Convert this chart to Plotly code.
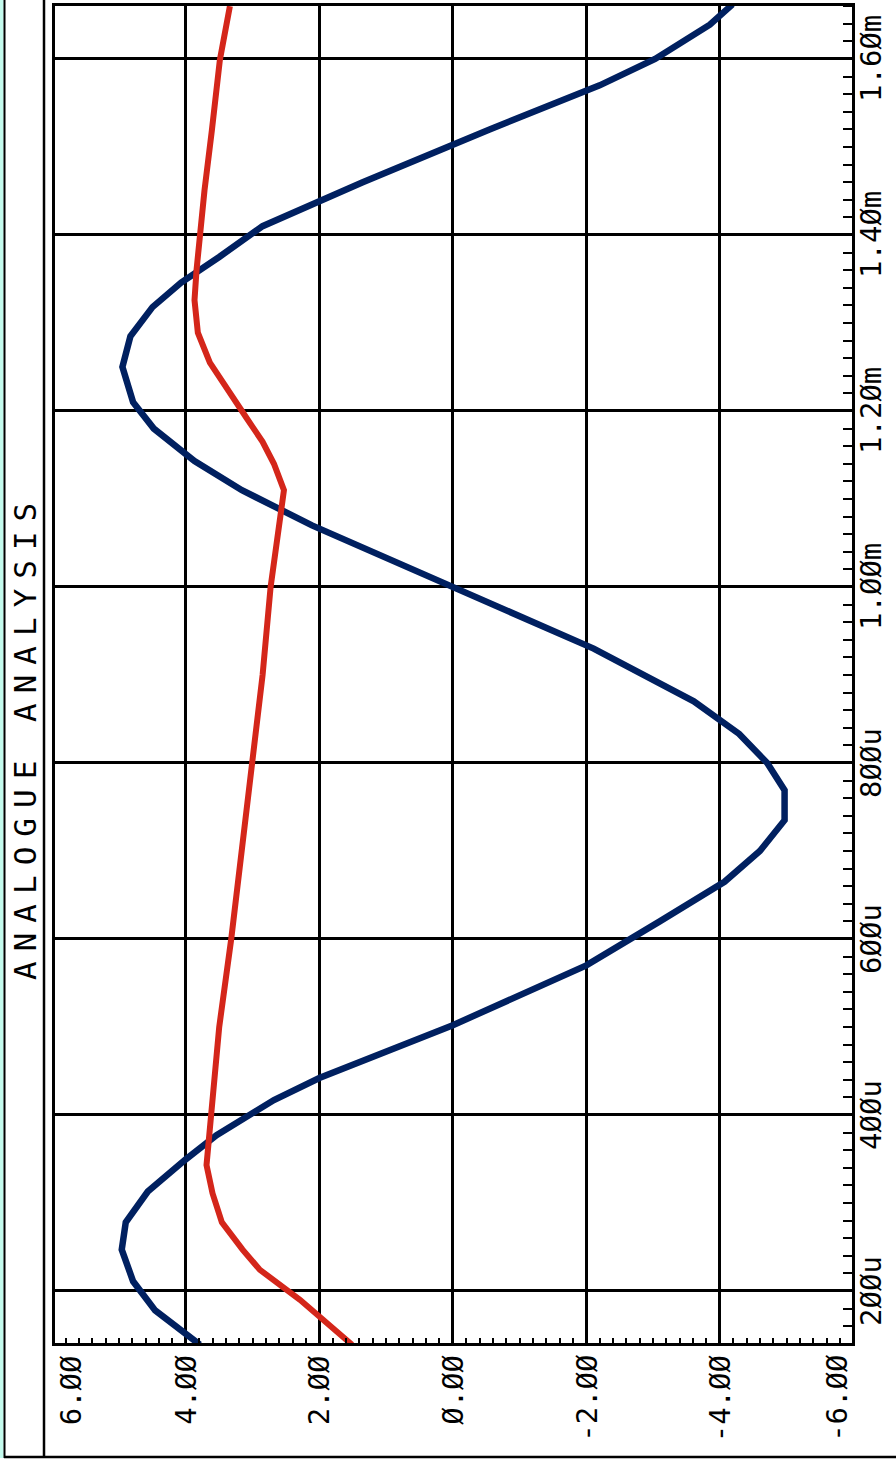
import plotly.graph_objects as go

W, H = 896, 1468

# ---- data (time in microseconds, voltage in volts) ----
blue_t = [139, 178, 211, 247, 278, 313, 349, 377, 417, 442, 502, 570, 620, 665, 700,
          735, 769, 800, 833, 870, 930, 1000, 1070, 1110, 1143, 1180, 1210, 1250, 1285,
          1318, 1346, 1375, 1410, 1460, 1520, 1570, 1600, 1639, 1662]
blue_v = [3.79, 4.46, 4.79, 4.96, 4.90, 4.57, 4.01, 3.54, 2.68, 2.00, 0.0, -2.00, -3.10,
          -4.07, -4.60, -4.97, -4.97, -4.71, -4.29, -3.61, -2.11, 0.0, 2.11, 3.16, 3.87,
          4.48, 4.79, 4.95, 4.83, 4.50, 4.07, 3.50, 2.85, 1.35, -0.55, -2.20, -3.03,
          -3.85, -4.19]

red_t = [139, 190, 224, 247, 278, 311, 343, 400, 500, 600, 700, 800, 900, 1000, 1060,
         1110, 1140, 1165, 1192, 1255, 1289, 1326, 1360, 1400, 1451, 1519, 1599, 1660]
red_v = [1.51, 2.29, 2.89, 3.15, 3.46, 3.60, 3.69, 3.62, 3.50, 3.32, 3.17, 3.00, 2.85,
         2.73, 2.62, 2.53, 2.68, 2.85, 3.09, 3.64, 3.82, 3.87, 3.84, 3.79, 3.72, 3.61,
         3.49, 3.34]

volt_ticks = [6, 4, 2, 0, -2, -4, -6]
volt_labels = ["6.ØØ", "4.ØØ", "2.ØØ", "Ø.ØØ", "-2.ØØ", "-4.ØØ", "-6.ØØ"]
time_ticks = [200, 400, 600, 800, 1000, 1200, 1400, 1600]
time_labels = ["2ØØu", "4ØØu", "6ØØu", "8ØØu", "1.ØØm", "1.2Øm", "1.4Øm", "1.6Øm"]
title_text = "ANALOGUE ANALYSIS"

BLUE = "rgb(0,32,96)"
RED = "rgb(212,38,26)"
FONT = "DejaVu Sans Mono"

X_RANGE = [5.96, -5.98]
X_DOM = [55 / W, 852 / W]


def px(x):
    return x / W


def py(y):
    return 1 - y / H


def volt_to_paper(v):
    frac = (X_RANGE[0] - v) / (X_RANGE[0] - X_RANGE[1])
    return X_DOM[0] + frac * (X_DOM[1] - X_DOM[0])


fig = go.Figure()
fig.add_trace(go.Scatter(x=blue_v, y=blue_t, mode="lines",
                         line=dict(color=BLUE, width=6.5), showlegend=False))
fig.add_trace(go.Scatter(x=red_v, y=red_t, mode="lines",
                         line=dict(color=RED, width=6), showlegend=False))

annotations = []
for v, lab in zip(volt_ticks, volt_labels):
    shift = 19 if v == 6 else (-17 if v == -6 else 0)
    annotations.append(dict(x=volt_to_paper(v), xref="paper", y=py(1353), yref="paper",
                            text=lab, textangle=-90, showarrow=False, xanchor="center",
                            yanchor="top", xshift=shift,
                            font=dict(family=FONT, size=29, color="black")))
for t, lab in zip(time_ticks, time_labels):
    annotations.append(dict(x=px(852), xref="paper", y=t, yref="y", text=lab,
                            textangle=-90, showarrow=False, xanchor="left",
                            yanchor="middle",
                            font=dict(family=FONT, size=29, color="black")))
annotations.append(dict(x=px(25), xref="paper", y=py(737), yref="paper",
                        text='<span style="letter-spacing:10px">' + title_text + '</span>',
                        textangle=-90, showarrow=False, xanchor="center", yanchor="middle",
                        font=dict(family=FONT, size=31, color="black")))

shapes = [
    dict(type="rect", xref="paper", yref="paper", x0=0, x1=px(3.5), y0=py(1458), y1=1,
         fillcolor="#c4fbee", line=dict(width=0), layer="below"),
    dict(type="line", xref="paper", yref="paper", x0=px(4.5), x1=px(4.5), y0=py(1458), y1=1,
         line=dict(color="black", width=2)),
    dict(type="line", xref="paper", yref="paper", x0=px(44), x1=px(44), y0=py(1458), y1=1,
         line=dict(color="black", width=2.5)),
    dict(type="line", xref="paper", yref="paper", x0=px(4), x1=1, y0=py(1457), y1=py(1457),
         line=dict(color="black", width=2.5)),
]

fig.update_layout(
    width=W, height=H, autosize=False,
    margin=dict(l=0, r=0, t=0, b=0),
    paper_bgcolor="white", plot_bgcolor="white",
    showlegend=False,
    hovermode=False,
    annotations=annotations,
    shapes=shapes,
    xaxis=dict(domain=X_DOM, range=X_RANGE, tick0=0, dtick=2,
               showgrid=True, gridcolor="black", gridwidth=3, zeroline=False,
               showticklabels=False, ticks="", showline=True, linecolor="black",
               linewidth=3, mirror=True,
               minor=dict(tick0=0, dtick=0.2, ticks="inside", ticklen=5, tickwidth=2,
                          tickcolor="black", showgrid=False)),
    yaxis=dict(domain=[py(1343), py(6)], range=[140.9, 1660.2], side="right", tick0=0,
               dtick=200, showgrid=True, gridcolor="black", gridwidth=3, zeroline=False,
               showticklabels=False, ticks="", showline=True, linecolor="black",
               linewidth=3, mirror=True,
               minor=dict(tick0=0, dtick=20, ticks="inside", ticklen=9, tickwidth=2,
                          tickcolor="black", showgrid=False)),
)

fig.write_html("out.html", config={"displayModeBar": False, "staticPlot": True},
               post_script="document.body.style.margin='0';document.body.style.padding='0';")
